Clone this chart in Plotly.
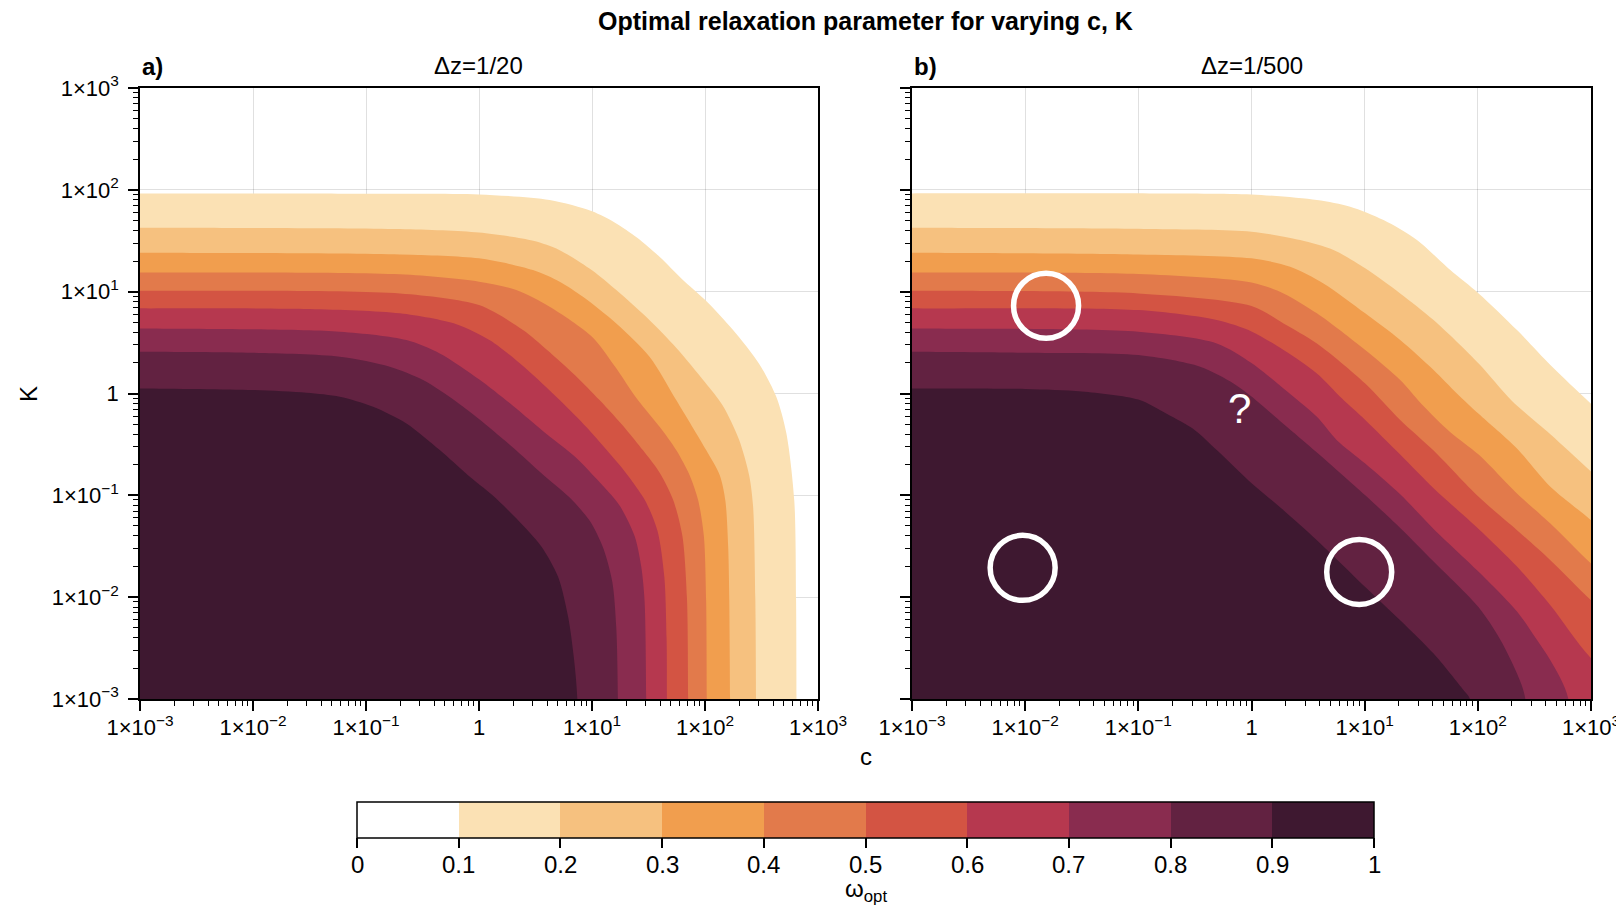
import numpy as np
import plotly.graph_objects as go

# page is drawn with an 8 px body margin: figure coordinates = target pixel - 8
W, H = 1616, 899
OFF = 8

# ---------------- data ----------------
contour_levels = [0.1, 0.2, 0.3, 0.4, 0.5, 0.6, 0.7, 0.8, 0.9]
band_colors = ["#ffffff", "#fbe1b4", "#f6c17f", "#f19e4e", "#e27a4b",
               "#d35443", "#b6384f", "#892c4f", "#622241", "#3e1830"]
cbar_ticks = [0, 0.1, 0.2, 0.3, 0.4, 0.5, 0.6, 0.7, 0.8, 0.9, 1.0]
cbar_text = ["0", "0.1", "0.2", "0.3", "0.4", "0.5", "0.6", "0.7", "0.8", "0.9", "1"]
decade_vals = [1e-3, 1e-2, 1e-1, 1, 1e1, 1e2, 1e3]
decade_text = ["1×10<sup>−3</sup>", "1×10<sup>−2</sup>", "1×10<sup>−1</sup>", "1",
               "1×10<sup>1</sup>", "1×10<sup>2</sup>", "1×10<sup>3</sup>"]

# Panel a) Δz=1/20 : contour boundaries omega = level, as log10(c), log10(K)
a01_logc = [-3, -1, 0, 0.625, 1.0, 1.2, 1.4, 1.6, 1.8, 2.0, 2.25, 2.48, 2.63, 2.72, 2.79, 2.806, 2.81]
a01_logK = [1.965, 1.962, 1.955, 1.90, 1.79, 1.68, 1.53, 1.34, 1.12, 0.92, 0.62, 0.29, -0.03, -0.39, -1.05, -2.03, -3]
a02_logc = [-3, -0.7, 0, 0.48, 0.71, 1.0, 1.215, 1.51, 1.745, 2.0, 2.158, 2.3, 2.39, 2.425, 2.445, 2.452]
a02_logK = [1.628, 1.615, 1.58, 1.50, 1.41, 1.21, 1.016, 0.72, 0.45, 0.11, -0.12, -0.45, -0.8, -1.1, -2.0, -3]
a03_logc = [-3, -0.7, 0, 0.478, 0.714, 0.92, 1.215, 1.509, 1.745, 2.01, 2.13, 2.18, 2.205, 2.215, 2.222]
a03_logK = [1.383, 1.366, 1.327, 1.212, 1.098, 0.95, 0.688, 0.361, -0.065, -0.556, -0.8, -1.05, -1.5, -2.03, -3]
a04_logc = [-3, -0.7, 0, 0.33, 0.625, 1.0, 1.2, 1.406, 1.6, 1.745, 1.863, 1.94, 1.99, 2.010, 2.016]
a04_logK = [1.189, 1.17, 1.098, 1.016, 0.852, 0.557, 0.27, -0.065, -0.33, -0.556, -0.8, -1.05, -1.4, -2.03, -3]
a05_logc = [-3, -0.7, 0, 0.389, 0.6, 0.85, 1.067, 1.3, 1.45, 1.6, 1.72, 1.8, 1.84, 1.851]
a05_logK = [1.009, 0.983, 0.868, 0.623, 0.43, 0.18, -0.065, -0.35, -0.556, -0.78, -1.05, -1.4, -2.0, -3]
a06_logc = [-3, -1.5, -0.7, -0.2, 0.1, 0.4, 0.714, 0.95, 1.13, 1.3, 1.47, 1.58, 1.64, 1.66, 1.663]
a06_logK = [0.836, 0.83, 0.787, 0.68, 0.52, 0.26, -0.065, -0.33, -0.556, -0.78, -1.05, -1.35, -1.8, -2.4, -3]
a07_logc = [-3, -1.232, -0.642, -0.347, 0.0, 0.3, 0.6, 0.85, 1.05, 1.244, 1.377, 1.436, 1.465, 1.48]
a07_logK = [0.639, 0.607, 0.525, 0.394, 0.14, -0.12, -0.4, -0.62, -0.85, -1.1, -1.4, -1.702, -2.03, -3]
a08_logc = [-3, -2, -1.232, -0.79, -0.495, -0.2, 0.0, 0.3, 0.55, 0.8, 0.98, 1.1, 1.18, 1.215, 1.229]
a08_logK = [0.41, 0.40, 0.361, 0.263, 0.132, -0.08, -0.25, -0.53, -0.78, -1.02, -1.25, -1.52, -1.85, -2.3, -3]
a09_logc = [-3, -2, -1.526, -1.232, -0.937, -0.642, -0.347, -0.1, 0.12, 0.35, 0.55, 0.7, 0.79, 0.84, 0.87]
a09_logK = [0.05, 0.034, 0.007, -0.032, -0.13, -0.294, -0.556, -0.8, -1.0, -1.25, -1.5, -1.8, -2.2, -2.6, -3]

# Panel b) Δz=1/500
b01_logc = [-3, -0.9, 0, 0.578, 0.872, 1.167, 1.462, 1.757, 2.007, 2.346, 2.641, 3]
b01_logK = [1.965, 1.965, 1.955, 1.90, 1.834, 1.703, 1.507, 1.212, 0.983, 0.623, 0.28, -0.1]
b02_logc = [-3, -0.9, 0, 0.43, 0.725, 1.005, 1.314, 1.609, 2.007, 2.3, 2.641, 3]
b02_logK = [1.628, 1.615, 1.589, 1.507, 1.409, 1.229, 0.983, 0.721, 0.295, -0.07, -0.40, -0.765]
b03_logc = [-3, -1.0, 0, 0.342, 0.636, 1.005, 1.314, 1.609, 1.815, 2.007, 2.346, 2.641, 3]
b03_logK = [1.383, 1.366, 1.327, 1.245, 1.081, 0.787, 0.525, 0.23, 0.0, -0.2, -0.54, -0.916, -1.244]
b04_logc = [-3, -1.0, 0, 0.283, 0.578, 1.005, 1.314, 1.5, 1.757, 2.007, 2.346, 2.641, 3]
b04_logK = [1.189, 1.173, 1.09, 0.983, 0.787, 0.426, 0.132, -0.1, -0.38, -0.6, -0.982, -1.277, -1.67]
b05_logc = [-3, -1.0, 0, 0.283, 0.578, 1.005, 1.314, 1.609, 2.007, 2.346, 2.641, 3]
b05_logK = [1.009, 0.983, 0.86, 0.688, 0.492, 0.099, -0.26, -0.56, -1.015, -1.342, -1.637, -2.03]
b06_logc = [-3, -1.0, -0.307, 0, 0.283, 0.578, 0.8, 1.005, 1.314, 1.609, 2.007, 2.346, 2.641, 3]
b06_logK = [0.836, 0.819, 0.721, 0.61, 0.426, 0.197, -0.05, -0.26, -0.6, -0.93, -1.33, -1.70, -2.08, -2.6]
b07_logc = [-3, -1.0, -0.307, 0, 0.283, 0.578, 0.754, 1.005, 1.314, 1.609, 2.007, 2.346, 2.523, 2.641, 2.80]
b07_logK = [0.639, 0.606, 0.492, 0.30, 0.05, -0.229, -0.458, -0.687, -0.99, -1.33, -1.75, -2.14, -2.42, -2.62, -3]
b08_logc = [-3, -2, -1.0, -0.454, -0.159, 0.0, 0.283, 0.578, 1.005, 1.314, 1.609, 2.007, 2.2, 2.346, 2.42]
b08_logK = [0.41, 0.40, 0.377, 0.263, 0.099, -0.03, -0.3, -0.58, -1.0, -1.32, -1.65, -2.1, -2.42, -2.75, -3]
b09_logc = [-3, -2, -1.5, -1.0, -0.75, -0.5, -0.307, 0.003, 0.283, 0.578, 1.005, 1.314, 1.609, 1.874, 1.93]
b09_logK = [0.05, 0.045, 0.02, -0.06, -0.2, -0.36, -0.556, -0.884, -1.146, -1.44, -1.899, -2.226, -2.554, -2.914, -3]

# White highlight circles (panel b) : centres c, K
circle_c = [0.0153, 0.0095, 8.95]
circle_K = [7.28, 0.0194, 0.0177]
question_c = [0.79]
question_K = [0.71]

panel_a = [(a01_logc, a01_logK), (a02_logc, a02_logK), (a03_logc, a03_logK),
           (a04_logc, a04_logK), (a05_logc, a05_logK), (a06_logc, a06_logK),
           (a07_logc, a07_logK), (a08_logc, a08_logK), (a09_logc, a09_logK)]
panel_b = [(b01_logc, b01_logK), (b02_logc, b02_logK), (b03_logc, b03_logK),
           (b04_logc, b04_logK), (b05_logc, b05_logK), (b06_logc, b06_logK),
           (b07_logc, b07_logK), (b08_logc, b08_logK), (b09_logc, b09_logK)]

FONT = "Liberation Sans, Arial, Helvetica, sans-serif"


def px(x):
    return (x - OFF) / W


def py(y):
    return 1 - (y - OFF) / H


def region(logc, logK):
    """polygon of {omega >= level}: boundary + lower-left corner, extended past the frame"""
    xs = [-4.0] + list(logc)
    ys = [logK[0]] + list(logK)
    if logK[-1] <= -3 + 1e-9:
        xs += [logc[-1]]
        ys += [-5.0]
    else:
        xs += [4.0, 4.0]
        ys += [logK[-1] - 1.0, -5.0]
    xs += [-5.0, -5.0]
    ys += [-5.0, logK[0]]
    return np.power(10.0, xs), np.power(10.0, ys)


fig = go.Figure()
for panel, (xa, ya) in ((panel_a, ("x", "y")), (panel_b, ("x2", "y2"))):
    for i, (lc, lk) in enumerate(panel):
        rx, ry = region(lc, lk)
        fig.add_trace(go.Scatter(
            x=rx, y=ry, xaxis=xa, yaxis=ya, mode="lines",
            line=dict(width=0, shape="spline", smoothing=0.8),
            fill="toself", fillcolor=band_colors[i + 1],
            hoverinfo="skip", showlegend=False))

# white circles
fig.add_trace(go.Scatter(
    x=circle_c, y=circle_K, xaxis="x2", yaxis="y2", mode="markers",
    marker=dict(symbol="circle-open", size=65, color="white", line=dict(width=5.5, color="white")),
    hoverinfo="skip", showlegend=False, cliponaxis=False))

# colour bar carrier
CB_LEFT, CB_RIGHT, CB_TOP = 357, 1374, 802
cs = []
for i, col in enumerate(band_colors):
    cs += [[i / 10, col], [(i + 1) / 10, col]]
fig.add_trace(go.Scatter(
    x=[1e-6], y=[1e-6], xaxis="x", yaxis="y", mode="markers",
    marker=dict(color=[0.5], colorscale=cs, cmin=0, cmax=1, size=1, opacity=0,
                showscale=True,
                colorbar=dict(orientation="h", x=px((CB_LEFT + CB_RIGHT) / 2), xanchor="center",
                              y=py(CB_TOP), yanchor="top",
                              len=CB_RIGHT - CB_LEFT, lenmode="pixels", thickness=36,
                              outlinewidth=1.5, outlinecolor="black",
                              tickmode="array", tickvals=cbar_ticks, ticktext=cbar_text,
                              ticks="outside", ticklen=10, tickwidth=1.5, tickcolor="black",
                              showticklabels=False, xpad=0, ypad=0)),
    hoverinfo="skip", showlegend=False))

axis_common = dict(type="log", range=[-3, 3], tickmode="array", tickvals=decade_vals,
                   ticktext=decade_text, showgrid=True, gridcolor="rgba(0,0,0,0.12)",
                   gridwidth=1, zeroline=False, showline=True, linecolor="black",
                   linewidth=1.5, mirror=True, ticks="outside", ticklen=10, tickwidth=1.5,
                   tickcolor="black", layer="above traces", automargin=False,
                   tickfont=dict(size=22, family=FONT, color="black"),
                   minor=dict(ticks="outside", ticklen=5, tickwidth=1, tickcolor="black",
                              dtick="D1", showgrid=False))

ydom = [py(699), py(88)]
fig.update_layout(
    width=W, height=H, margin=dict(l=0, r=0, t=0, b=0, pad=0, autoexpand=False),
    paper_bgcolor="white", plot_bgcolor="white",
    xaxis=dict(axis_common, domain=[px(140), px(818)], anchor="y", ticklabelstandoff=-2),
    yaxis=dict(axis_common, domain=ydom, anchor="x", ticklabelstandoff=5),
    xaxis2=dict(axis_common, domain=[px(912), px(1591)], anchor="y2", ticklabelstandoff=-2),
    yaxis2=dict(axis_common, domain=ydom, anchor="x2", showticklabels=False),
    font=dict(family=FONT, color="black"),
)

ann = [
    dict(text="<b>Optimal relaxation parameter for varying c, K</b>", x=px(865.5), y=py(21),
         font=dict(size=25)),
    dict(text="Δz=1/20", x=px(479), y=py(65), font=dict(size=24)),
    dict(text="Δz=1/500", x=px(1251.5), y=py(65), font=dict(size=24)),
    dict(text="<b>a)</b>", x=px(140), y=py(67), xanchor="left", font=dict(size=24)),
    dict(text="<b>b)</b>", x=px(912), y=py(67), xanchor="left", font=dict(size=24)),
    dict(text="K", x=px(29), y=py(394), textangle=-90, font=dict(size=24)),
    dict(text="c", x=px(865.5), y=py(756), font=dict(size=24)),
    dict(text="ω<sub>opt</sub>", x=px(865.5), y=py(890), font=dict(size=24)),
]
# colour-bar tick labels
for v, t in zip(cbar_ticks, cbar_text):
    ann.append(dict(text=t, x=px(CB_LEFT + v * (CB_RIGHT - CB_LEFT)), y=py(864), font=dict(size=24)))

for a in ann:
    a.setdefault("xanchor", "center")
    fig.add_annotation(xref="paper", yref="paper", yanchor="middle", showarrow=False, **a)

for qc, qk in zip(question_c, question_K):
    fig.add_annotation(x=np.log10(qc), y=np.log10(qk), xref="x2", yref="y2", text="?",
                       showarrow=False, font=dict(size=42, color="white", family=FONT))

fig.write_html("out.html", post_script="document.body.style.overflow='hidden';")
